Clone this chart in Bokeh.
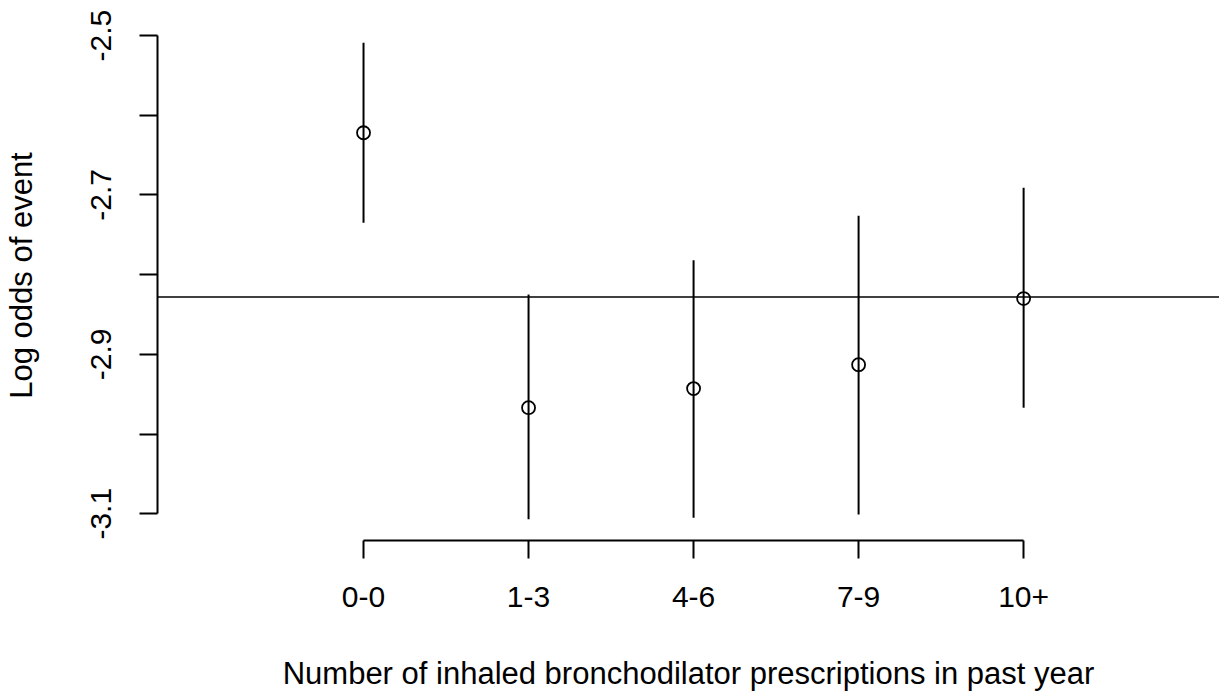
from bokeh.plotting import figure
from bokeh.models import Range1d, FixedTicker, Span, ColumnDataSource, PrintfTickFormatter
from bokeh.embed import file_html
from bokeh.resources import INLINE

categories = ["0-0", "1-3", "4-6", "7-9", "10+"]
log_odds = [-2.622, -2.967, -2.943, -2.913, -2.830]
lower = [-2.735, -3.107, -3.105, -3.101, -2.967]
upper = [-2.509, -2.825, -2.782, -2.726, -2.691]
overall = -2.828
y_major = [-3.1, -2.9, -2.7, -2.5]
y_minor = [-3.0, -2.8, -2.6]

xpos = list(range(1, len(categories) + 1))
src = ColumnDataSource(dict(x=xpos, y=log_odds, lo=lower, hi=upper))

FONT = "Liberation Sans"

p = figure(frame_width=1062, frame_height=530,
           min_border_left=155, min_border_right=0, min_border_top=10, min_border_bottom=149,
           x_range=Range1d(-0.2485, 6.187), y_range=Range1d(-3.1336, -2.4686),
           output_backend="svg", toolbar_location=None)
p.background_fill_color = "white"
p.border_fill_color = "white"
p.outline_line_color = None
p.xgrid.visible = False
p.ygrid.visible = False

p.add_layout(Span(location=overall, dimension="width", line_color="black", line_width=1.6))
p.segment(x0="x", y0="lo", x1="x", y1="hi", source=src, line_color="black", line_width=2)
p.scatter(x="x", y="y", source=src, size=13, marker="circle", fill_color=None,
          line_color="black", line_width=1.8)

xa = p.xaxis[0]
xa.ticker = FixedTicker(ticks=xpos)
xa.major_label_overrides = {x: c for x, c in zip(xpos, categories)}
xa.bounds = (1, 5)
xa.axis_label = "Number of inhaled bronchodilator prescriptions in past year"

ya = p.yaxis[0]
ya.ticker = FixedTicker(ticks=y_major, minor_ticks=y_minor)
ya.formatter = PrintfTickFormatter(format="%.1f")
ya.bounds = (-3.1, -2.5)
ya.axis_label = "Log odds of event"
ya.major_label_orientation = "parallel"

for ax in (xa, ya):
    ax.axis_line_color = "black"
    ax.axis_line_width = 2
    ax.major_tick_line_color = "black"
    ax.major_tick_line_width = 2
    ax.major_tick_out = 18
    ax.major_tick_in = 0
    ax.minor_tick_line_color = "black"
    ax.minor_tick_line_width = 2
    ax.minor_tick_out = 18
    ax.minor_tick_in = 0
    ax.major_label_text_font = FONT
    ax.major_label_text_font_size = "30px"
    ax.major_label_text_color = "black"
    ax.axis_label_text_font = FONT
    ax.axis_label_text_font_size = "31px"
    ax.axis_label_text_font_style = "normal"
    ax.axis_label_text_color = "black"

xa.minor_tick_line_color = None
xa.major_label_standoff = 28
xa.axis_label_standoff = 46
ya.major_label_standoff = 28
ya.axis_label_standoff = 50

open("out.html", "w").write(file_html(p, INLINE))
